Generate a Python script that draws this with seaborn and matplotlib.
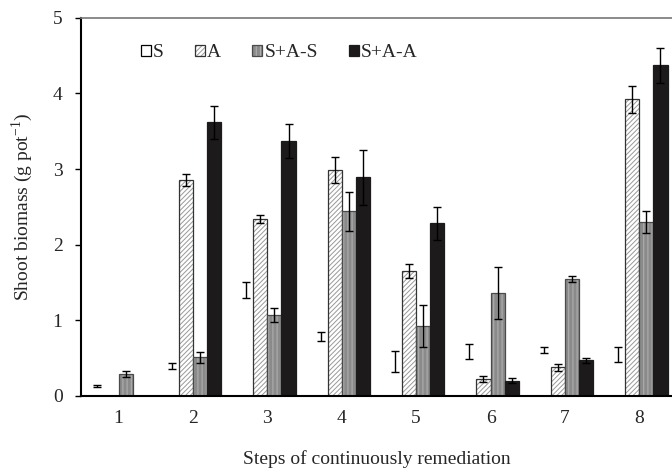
import numpy as np
import pandas as pd
import matplotlib
matplotlib.use("Agg")
import matplotlib.pyplot as plt
from matplotlib.patches import Patch
from matplotlib.colors import to_rgba
import seaborn as sns

# data
steps = ["1", "2", "3", "4", "5", "6", "7", "8"]
treatments = ["S", "A", "S+A-S", "S+A-A"]

s_mean = [0.13, 0.40, 1.40, 0.79, 0.45, 0.59, 0.60, 0.55]
s_err = [0.01, 0.04, 0.11, 0.06, 0.14, 0.10, 0.04, 0.10]
a_mean = [0.0, 2.85, 2.34, 2.99, 1.65, 0.22, 0.375, 3.92]
a_err = [np.nan, 0.08, 0.05, 0.17, 0.09, 0.04, 0.04, 0.18]
sas_mean = [0.29, 0.51, 1.07, 2.44, 0.92, 1.36, 1.545, 2.30]
sas_err = [0.04, 0.07, 0.09, 0.26, 0.28, 0.35, 0.04, 0.15]
saa_mean = [0.0, 3.62, 3.37, 2.89, 2.28, 0.20, 0.47, 4.37]
saa_err = [np.nan, 0.22, 0.22, 0.36, 0.22, 0.035, 0.03, 0.23]

means = [s_mean, a_mean, sas_mean, saa_mean]
errs = [s_err, a_err, sas_err, saa_err]

df = pd.DataFrame({
    "step": np.tile(steps, len(treatments)),
    "treatment": np.repeat(treatments, len(steps)),
    "biomass": np.concatenate(means),
})

sns.set_style("white")
plt.rcParams["font.family"] = ["Liberation Serif", "DejaVu Serif"]
plt.rcParams["mathtext.fontset"] = "custom"
plt.rcParams["mathtext.rm"] = "Liberation Serif"
plt.rcParams["hatch.linewidth"] = 0.7

fig = plt.figure(figsize=(6.72, 4.69), dpi=100)
ax = fig.add_axes([0.12, 0.156, 0.88, 0.806])

fills = ["white", "white", "#8a8a8a", "#1c1a1a"]
sns.barplot(data=df, x="step", y="biomass", hue="treatment",
            order=steps, hue_order=treatments, palette=fills,
            errorbar=None, width=0.76, ax=ax, saturation=1, legend=False)

edges = ["white", "#333333", "#4a4a4a", "#1c1a1a"]
hatches = [None, "///////", "||||", None]
hatch_cols = [None, "#999999", "#b4b4b4", None]


def set_hatch_colour(bar, col):
    if hasattr(bar, "set_hatchcolor"):
        bar.set_hatchcolor(col)
    else:
        bar._hatch_color = to_rgba(col)


for cont, ec, h, hc, e in zip(ax.containers, edges, hatches, hatch_cols, errs):
    for bar, err in zip(cont, e):
        bar.set_edgecolor(ec)
        bar.set_linewidth(0.9)
        if h:
            bar.set_hatch(h)
            set_hatch_colour(bar, hc)
        if not np.isnan(err):
            ax.errorbar(bar.get_x() + bar.get_width() / 2, bar.get_height(),
                        yerr=err, fmt="none", ecolor="black",
                        elinewidth=1, capsize=3, capthick=1)

# legend with small boxes
handles = []
for f, ec, h, hc in zip(fills, edges, hatches, hatch_cols):
    p = Patch(facecolor=f, edgecolor="black" if f == "white" and not h else ec,
              hatch=h, linewidth=0.9)
    if h:
        set_hatch_colour(p, hc)
    handles.append(p)
ax.legend(handles, treatments, loc="center left", bbox_to_anchor=(0.102, 0.907),
          ncol=4, frameon=False, fontsize=14, handlelength=0.5,
          handleheight=0.5, handletextpad=0.12, columnspacing=1.6,
          borderaxespad=0, borderpad=0)

ax.set_ylim(0, 5)
ax.set_xlim(-0.51, 7.44)
ax.set_yticks([0, 1, 2, 3, 4, 5])
ax.tick_params(axis="y", direction="out", length=4, width=1, labelsize=14,
               left=True, color="black", pad=9)
ax.tick_params(axis="x", length=0, labelsize=14, pad=10)

ax.set_xlabel("Steps of continuously remediation", fontsize=14, labelpad=17)
ax.set_ylabel("Shoot biomass (g pot$^{-1}$)", fontsize=14, labelpad=13)

for side in ["left", "bottom"]:
    ax.spines[side].set_color("black")
    ax.spines[side].set_linewidth(1.5)
ax.spines["top"].set_color("#777777")
ax.spines["top"].set_linewidth(1.2)
ax.spines["right"].set_visible(False)

plt.savefig("out.png", dpi=100)
